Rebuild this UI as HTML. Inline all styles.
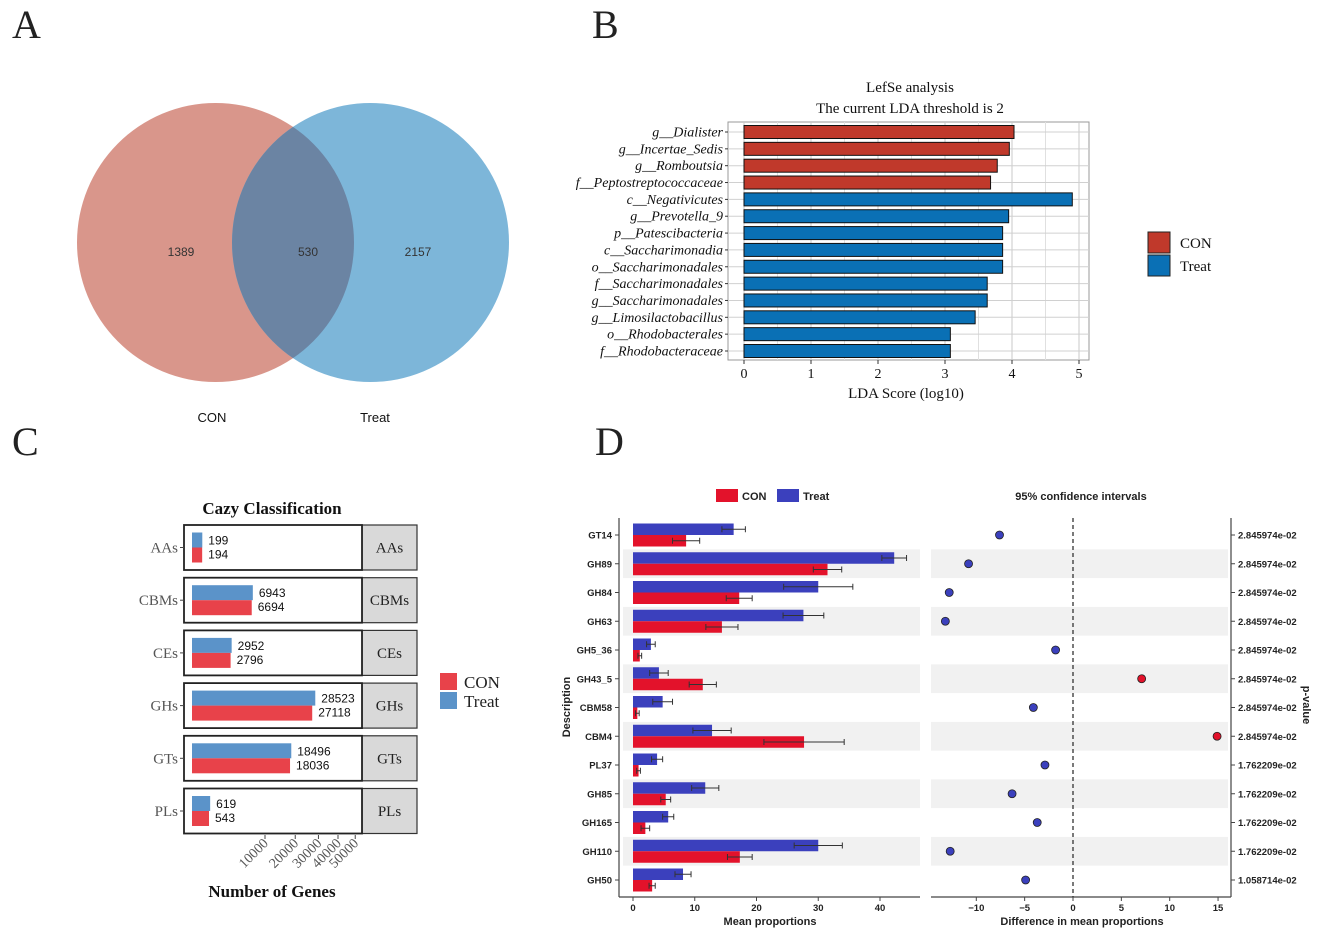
<!DOCTYPE html>
<html><head><meta charset="utf-8">
<style>
html,body{margin:0;padding:0;background:#fff;}
svg{display:block;}
.serif{font-family:"Liberation Serif",serif;}
.sans{font-family:"Liberation Sans",sans-serif;}
</style></head>
<body>
<svg id="fig" width="1325" height="935" viewBox="0 0 1325 935" xmlns="http://www.w3.org/2000/svg">
<g class="serif" font-size="40" fill="#222">
<text x="12" y="38">A</text>
<text x="592" y="38">B</text>
<text x="12" y="455">C</text>
<text x="595" y="455">D</text>
</g>
<g id="venn"></g>
<g id="lefse"></g>
<g id="cazy"></g>
<g id="stamp"></g>
</svg>
<script>
// ---- Venn data
const vennCounts = [1389, 530, 2157];
const vennSets = ["CON", "Treat"];
// ---- LefSe data
const lefseTaxa = ["g__Dialister","g__Incertae_Sedis","g__Romboutsia","f__Peptostreptococcaceae","c__Negativicutes","g__Prevotella_9","p__Patescibacteria","c__Saccharimonadia","o__Saccharimonadales","f__Saccharimonadales","g__Saccharimonadales","g__Limosilactobacillus","o__Rhodobacterales","f__Rhodobacteraceae"];
const lefseScores = [4.03,3.96,3.78,3.68,4.9,3.95,3.86,3.86,3.86,3.63,3.63,3.45,3.08,3.08];
const lefseGroups = ["CON","CON","CON","CON","Treat","Treat","Treat","Treat","Treat","Treat","Treat","Treat","Treat","Treat"];
const lefseTicks = [0,1,2,3,4,5];
// ---- Cazy data
const cazyClasses = ["AAs","CBMs","CEs","GHs","GTs","PLs"];
const cazyTreat = [199,6943,2952,28523,18496,619];
const cazyCon = [194,6694,2796,27118,18036,543];
const cazyTicks = [10000,20000,30000,40000,50000];
// ---- STAMP data
const stampFeatures = ["GT14","GH89","GH84","GH63","GH5_36","GH43_5","CBM58","CBM4","PL37","GH85","GH165","GH110","GH50"];
const stampTreat = [16.3,42.3,30.0,27.6,2.9,4.2,4.8,12.8,3.9,11.7,5.7,30.0,8.1];
const stampTreatErr = [1.9,2.0,5.6,3.3,0.7,1.5,1.6,3.1,0.9,2.2,0.9,3.9,1.3];
const stampCon = [8.6,31.5,17.2,14.4,1.1,11.3,0.7,27.7,0.9,5.3,2.0,17.3,3.1];
const stampConErr = [2.2,2.3,2.1,2.6,0.3,2.2,0.3,6.5,0.3,0.8,0.7,2.0,0.5];
const stampDiff = [-7.6,-10.8,-12.8,-13.2,-1.8,7.1,-4.1,14.9,-2.9,-6.3,-3.7,-12.7,-4.9];
const stampPvals = ["2.845974e-02","2.845974e-02","2.845974e-02","2.845974e-02","2.845974e-02","2.845974e-02","2.845974e-02","2.845974e-02","1.762209e-02","1.762209e-02","1.762209e-02","1.762209e-02","1.058714e-02"];
const stampMeanTicks = [0,10,20,30,40];
const stampDiffTicks = [-10,-5,0,5,10,15];

const NS="http://www.w3.org/2000/svg";
function mk(parent, tag, attrs, text){
  const e=document.createElementNS(NS,tag);
  for(const k in attrs) e.setAttribute(k,attrs[k]);
  if(text!==undefined) e.textContent=text;
  parent.appendChild(e); return e;
}

// ===== Venn
(function(){
  const g=document.getElementById('venn');
  const defs=mk(g,'defs',{});
  const cp=mk(defs,'clipPath',{id:'clipL'});
  mk(cp,'ellipse',{cx:215.5,cy:242.5,rx:138.5,ry:139.5});
  const l=mk(g,'ellipse',{cx:215.5,cy:242.5,rx:138.5,ry:139.5,fill:'#d9968b'});
  
  
  const r=mk(g,'ellipse',{cx:370.5,cy:242.5,rx:138.5,ry:139.5,fill:'#7db6d9'});
  
  
  const o=mk(g,'ellipse',{cx:370.5,cy:242.5,rx:138.5,ry:139.5,fill:'#6b84a3','clip-path':'url(#clipL)'});
  
  
  const xs=[181,308,418];
  vennCounts.forEach((c,i)=>{
    const t=mk(g,'text',{x:xs[i],y:256,'text-anchor':'middle','font-size':12,fill:'#333',class:'sans'},c);
    
    
  });
  [212,375].forEach((x,i)=>{
    const t=mk(g,'text',{x:x,y:422,'text-anchor':'middle','font-size':13,fill:'#111',class:'sans'},vennSets[i]);
    
    
  });
})();

// ===== LefSe
(function(){
  const g=document.getElementById('lefse');
  const x0=744, ppu=67, top=122, bot=360, left=728, right=1089;
  const X=v=>x0+v*ppu;
  const y0=132, step=(351-132)/13;
  const Y=i=>y0+i*step;
  mk(g,'rect',{x:left,y:top,width:right-left,height:bot-top,fill:'#fff',stroke:'#999','stroke-width':1});
  for(let v=0.5; v<=5.5; v+=0.5){
    if(X(v)>right) break;
    mk(g,'line',{x1:X(v),x2:X(v),y1:top,y2:bot,stroke:(v%1===0)?'#c8c8c8':'#e0e0e0','stroke-width':1});
  }
  mk(g,'line',{x1:X(0),x2:X(0),y1:top,y2:bot,stroke:'#c8c8c8'});
  lefseTaxa.forEach((t,i)=>{
    mk(g,'line',{x1:left,x2:right,y1:Y(i),y2:Y(i),stroke:'#d0d0d0'});
  });
  lefseTaxa.forEach((t,i)=>{
    const b=mk(g,'rect',{x:X(0),y:Y(i)-6.5,width:X(lefseScores[i])-X(0),height:13,fill:lefseGroups[i]==='CON'?'#c0392b':'#0a70b5',stroke:'#111','stroke-width':1});
    
    
    mk(g,'line',{x1:left-3,x2:left,y1:Y(i),y2:Y(i),stroke:'#333'});
    const p=t.indexOf('__');
    const lab=mk(g,'text',{x:left-5,y:Y(i)+4.5,'text-anchor':'end','font-size':14,'font-style':'italic',fill:'#111',class:'serif'},t.slice(0,p)+'__'+t.slice(p+2));
    
    
  });
  lefseTicks.forEach(v=>{
    mk(g,'line',{x1:X(v),x2:X(v),y1:bot,y2:bot+4,stroke:'#333'});
    const t=mk(g,'text',{x:X(v),y:bot+18,'text-anchor':'middle','font-size':14,fill:'#111',class:'serif'},v);
    
    
  });
  let t=mk(g,'text',{x:906,y:398,'text-anchor':'middle','font-size':15,fill:'#111',class:'serif'},'LDA Score (log10)');
  
  
  t=mk(g,'text',{x:910,y:92,'text-anchor':'middle','font-size':15,fill:'#111',class:'serif'},'LefSe analysis');
  
  
  t=mk(g,'text',{x:910,y:113,'text-anchor':'middle','font-size':15,fill:'#111',class:'serif'},'The current LDA threshold is 2');
  
  
  [['CON','#c0392b',232],['Treat','#0a70b5',255]].forEach(a=>{
    const r=mk(g,'rect',{x:1148,y:a[2],width:22,height:21,fill:a[1],stroke:'#222'});
    
    
    const tt=mk(g,'text',{x:1180,y:a[2]+16,'font-size':15,fill:'#111',class:'serif'},a[0]);
    
    
  });
})();

// ===== Cazy
(function(){
  const g=document.getElementById('cazy');
  const x0=192, k=0.73;
  const X=v=>x0+Math.sqrt(v)*k;
  const boxL=184, boxR=362, stripR=417;
  let t=mk(g,'text',{x:272,y:514,'text-anchor':'middle','font-size':17,'font-weight':'bold',fill:'#111',class:'serif'},'Cazy Classification');
  
  
  cazyClasses.forEach((c,i)=>{
    const top=525+i*52.7, h=45, cy=top+h/2;
    const s=mk(g,'rect',{x:boxR,y:top,width:stripR-boxR,height:h,fill:'#d9d9d9',stroke:'#333','stroke-width':1.2});
    
    
    mk(g,'rect',{x:boxL,y:top,width:boxR-boxL,height:h,fill:'#fff',stroke:'#222','stroke-width':1.8});
    let st=mk(g,'text',{x:(boxR+stripR)/2,y:cy+5,'text-anchor':'middle','font-size':15,fill:'#222',class:'serif'},c);
    
    
    const bt=mk(g,'rect',{x:x0,y:cy-15,width:X(cazyTreat[i])-x0,height:15,fill:'#5b93c9'});
    
    
    const bc=mk(g,'rect',{x:x0,y:cy,width:X(cazyCon[i])-x0,height:15,fill:'#e8424a'});
    
    
    st=mk(g,'text',{x:X(cazyTreat[i])+6,y:cy-3,'font-size':12,fill:'#111',class:'sans'},cazyTreat[i]);
    
    
    st=mk(g,'text',{x:X(cazyCon[i])+6,y:cy+11,'font-size':12,fill:'#111',class:'sans'},cazyCon[i]);
    
    
    mk(g,'line',{x1:boxL-4,x2:boxL,y1:cy,y2:cy,stroke:'#444'});
    st=mk(g,'text',{x:boxL-6,y:cy+5,'text-anchor':'end','font-size':15,fill:'#555',class:'serif'},c);
    
    
  });
  const axY=835;
  cazyTicks.forEach(v=>{
    mk(g,'line',{x1:X(v),x2:X(v),y1:axY,y2:axY+4,stroke:'#444'});
    const tt=mk(g,'text',{x:X(v)+4,y:axY+9,'text-anchor':'end','font-size':14,fill:'#555',class:'serif',transform:`rotate(-45 ${X(v)+4} ${axY+9})`},v);
    
    
  });
  t=mk(g,'text',{x:272,y:897,'text-anchor':'middle','font-size':17,'font-weight':'bold',fill:'#111',class:'serif'},'Number of Genes');
  
  
  [['CON','#e8424a',673],['Treat','#5b93c9',692]].forEach(a=>{
    const r=mk(g,'rect',{x:440,y:a[2],width:17,height:17,fill:a[1]});
    
    
    const tt=mk(g,'text',{x:464,y:a[2]+15,'font-size':17,fill:'#222',class:'serif'},a[0]);
    
    
  });
})();

// ===== STAMP
(function(){
  const g=document.getElementById('stamp');
  const RED='#e3122b', BLUE='#3b40bd';
  const mx0=633, mk1=6.175;
  const MX=v=>mx0+v*mk1;
  const dx0=1073, dk=9.67;
  const DX=v=>dx0+v*dk;
  const y0=535, step=28.75;
  const Y=i=>y0+i*step;
  const axB=897;
  stampFeatures.forEach((f,i)=>{
    if(i%2===1){
      mk(g,'rect',{x:623,y:Y(i)-step/2,width:920-623,height:step,fill:'#f1f1f1'});
      mk(g,'rect',{x:931,y:Y(i)-step/2,width:1228-931,height:step,fill:'#f1f1f1'});
    }
  });
  // axes
  mk(g,'line',{x1:619,x2:619,y1:518,y2:axB,stroke:'#444','stroke-width':1.2});
  mk(g,'line',{x1:619,x2:920,y1:axB,y2:axB,stroke:'#444','stroke-width':1.2});
  mk(g,'line',{x1:931,x2:1231,y1:axB,y2:axB,stroke:'#444','stroke-width':1.2});
  mk(g,'line',{x1:1231,x2:1231,y1:518,y2:axB,stroke:'#444','stroke-width':1.2});
  mk(g,'line',{x1:DX(0),x2:DX(0),y1:518,y2:axB,stroke:'#333','stroke-width':1.3,'stroke-dasharray':'4,3'});
  stampFeatures.forEach((f,i)=>{
    const cy=Y(i);
    const bt=mk(g,'rect',{x:MX(0),y:cy-11.5,width:MX(stampTreat[i])-MX(0),height:11.5,fill:BLUE});
    
    
    const bc=mk(g,'rect',{x:MX(0),y:cy,width:MX(stampCon[i])-MX(0),height:11.5,fill:RED});
    
    
    [[stampTreat[i],stampTreatErr[i],cy-5.75],[stampCon[i],stampConErr[i],cy+5.75]].forEach(a=>{
      const l=MX(a[0]-a[1]), r=MX(a[0]+a[1]);
      const eb=mk(g,'path',{d:`M${l},${a[2]}H${r}M${l},${a[2]-3}V${a[2]+3}M${r},${a[2]-3}V${a[2]+3}`,stroke:'#333','stroke-width':1,fill:'none'});
      
      
    });
    mk(g,'line',{x1:615,x2:619,y1:cy,y2:cy,stroke:'#444'});
    let t=mk(g,'text',{x:612,y:cy+3.5,'text-anchor':'end','font-size':9.5,'font-weight':'bold',fill:'#222',class:'sans'},f);
    
    
    const d=stampDiff[i];
    const pt=mk(g,'circle',{cx:DX(d),cy:cy,r:4,fill:d>0?RED:BLUE,stroke:'#222','stroke-width':0.8});
    
    
    mk(g,'line',{x1:1231,x2:1235,y1:cy,y2:cy,stroke:'#444'});
    t=mk(g,'text',{x:1238,y:cy+3.5,'font-size':9.5,'font-weight':'bold',fill:'#222',class:'sans'},stampPvals[i]);
    
    
  });
  stampMeanTicks.forEach(v=>{
    mk(g,'line',{x1:MX(v),x2:MX(v),y1:axB,y2:axB+4,stroke:'#444'});
    const t=mk(g,'text',{x:MX(v),y:axB+14,'text-anchor':'middle','font-size':9.5,'font-weight':'bold',fill:'#222',class:'sans'},v);
    
    
  });
  stampDiffTicks.forEach(v=>{
    mk(g,'line',{x1:DX(v),x2:DX(v),y1:axB,y2:axB+4,stroke:'#444'});
    const t=mk(g,'text',{x:DX(v),y:axB+14,'text-anchor':'middle','font-size':9.5,'font-weight':'bold',fill:'#222',class:'sans'},v<0?'\u2212'+(-v):v);
    
    
  });
  let t=mk(g,'text',{x:770,y:925,'text-anchor':'middle','font-size':11,'font-weight':'bold',fill:'#222',class:'sans'},'Mean proportions');
  
  
  t=mk(g,'text',{x:1082,y:925,'text-anchor':'middle','font-size':11,'font-weight':'bold',fill:'#222',class:'sans'},'Difference in mean proportions');
  
  
  t=mk(g,'text',{x:570,y:707,'text-anchor':'middle','font-size':11,'font-weight':'bold',fill:'#222',class:'sans',transform:'rotate(-90 570 707)'},'Description');
  
  
  t=mk(g,'text',{x:1303,y:705,'text-anchor':'middle','font-size':11,'font-weight':'bold',fill:'#222',class:'sans',transform:'rotate(90 1303 705)'},'p-value');
  
  
  t=mk(g,'text',{x:1081,y:500,'text-anchor':'middle','font-size':11,'font-weight':'bold',fill:'#222',class:'sans'},'95% confidence intervals');
  
  
  [['CON',RED,716,742],['Treat',BLUE,777,803]].forEach(a=>{
    const r=mk(g,'rect',{x:a[2],y:489,width:22,height:13,fill:a[1]});
    
    
    const tt=mk(g,'text',{x:a[3],y:500,'font-size':11,'font-weight':'bold',fill:'#222',class:'sans'},a[0]);
    
    
  });
})();
</script>
</body></html>
